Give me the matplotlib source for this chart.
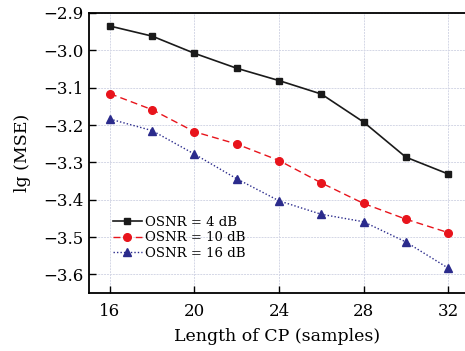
import matplotlib
matplotlib.use("Agg")
import matplotlib.pyplot as plt

cp_len = [16, 18, 20, 22, 24, 26, 28, 30, 32]
osnr4 = [-2.935, -2.962, -3.008, -3.048, -3.081, -3.117, -3.192, -3.286, -3.331]
osnr10 = [-3.116, -3.159, -3.218, -3.251, -3.295, -3.355, -3.410, -3.452, -3.488]
osnr16 = [-3.184, -3.215, -3.278, -3.344, -3.403, -3.439, -3.459, -3.513, -3.583]
labels = ["OSNR = 4 dB", "OSNR = 10 dB", "OSNR = 16 dB"]
xticks = [16, 20, 24, 28, 32]
yticks = [-2.9, -3.0, -3.1, -3.2, -3.3, -3.4, -3.5, -3.6]

plt.rcParams['font.family'] = ['DejaVu Serif']
plt.rcParams['mathtext.fontset'] = 'dejavuserif'

fig = plt.figure(figsize=(4.65, 3.51), dpi=100)
ax = fig.add_axes([0.191, 0.165, 0.809, 0.798])

ax.plot(cp_len, osnr4, color='#1a1a1a', ls='-', lw=1.2, marker='s', ms=5, label=labels[0])
ax.plot(cp_len, osnr10, color='#e8141c', ls=(0, (5, 3)), lw=1.0, marker='o', ms=5.5, label=labels[1])
ax.plot(cp_len, osnr16, color='#2b2b8c', ls=(0, (1, 1.5)), lw=1.0, marker='^', ms=5.5, label=labels[2])

ax.set_xlim(15, 32.8)
ax.set_ylim(-3.65, -2.9)
ax.set_xticks(xticks)
ax.set_yticks(yticks)
ax.set_yticklabels([f"\u2212{abs(v):.1f}" for v in yticks])
ax.tick_params(direction='in', length=5, width=1.0, labelsize=12, top=False, right=False)
ax.tick_params(axis='x', pad=7)
ax.grid(True, color='#d4d7e6', lw=0.7, ls=(0, (2, 1)))
ax.spines['right'].set_visible(False)
for s in ['left', 'bottom', 'top']:
    ax.spines[s].set_linewidth(1.3)

ax.set_xlabel("Length of CP (samples)", fontsize=12.5, labelpad=6)
ax.set_ylabel("lg (MSE)", fontsize=12.5, labelpad=9)

ax.legend(loc='upper left', bbox_to_anchor=(0.05, 0.295), frameon=False, fontsize=9.5,
          handlelength=2.2, handletextpad=0.2, labelspacing=0.2, borderaxespad=0.0)

fig.savefig("out.png", dpi=100)
